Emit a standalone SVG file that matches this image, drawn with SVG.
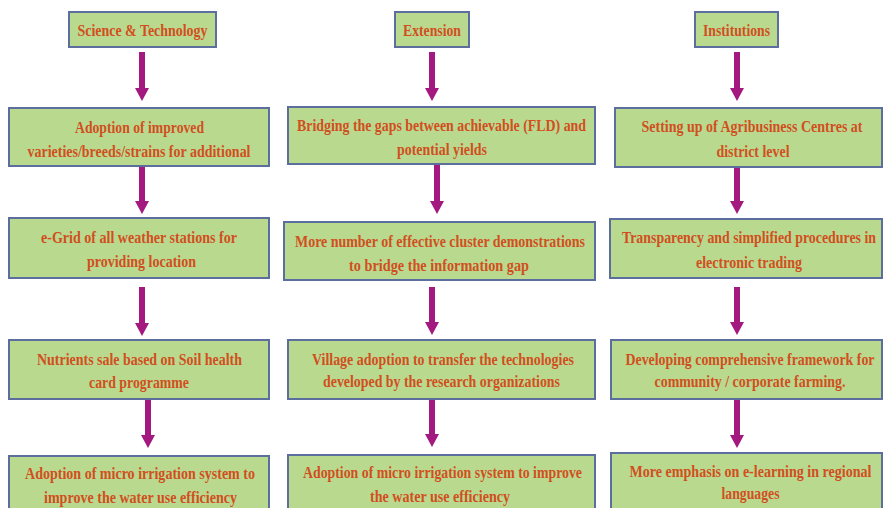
<svg xmlns="http://www.w3.org/2000/svg" width="885" height="508" viewBox="0 0 885 508">
<style>
.box{fill:#b9d98f;stroke:#5b6e9e;stroke-width:2}
.t{font-family:"Liberation Serif","Times New Roman",serif;font-weight:bold;font-size:17px;fill:#d14f1e;text-anchor:middle}
.arr{stroke:#a3197f;stroke-width:6;fill:none;marker-end:url(#ah)}
</style>
<defs>
<marker id="ah" viewBox="0 -7 13 14" markerWidth="13" markerHeight="14" refX="0" refY="0" orient="auto" markerUnits="userSpaceOnUse">
<path d="M0,-7 L13,0 L0,7 z" fill="#a3197f"/>
</marker>
</defs>
<rect width="885" height="508" fill="#ffffff"/>
<g id="connectors">
<line class="arr" x1="142" y1="52" x2="142" y2="88"/>
<line class="arr" x1="142" y1="166" x2="142" y2="201"/>
<line class="arr" x1="142" y1="287" x2="142" y2="323"/>
<line class="arr" x1="148" y1="399" x2="148" y2="435"/>
<line class="arr" x1="432" y1="52" x2="432" y2="88"/>
<line class="arr" x1="437" y1="165" x2="437" y2="201"/>
<line class="arr" x1="432" y1="287" x2="432" y2="322"/>
<line class="arr" x1="432" y1="399" x2="432" y2="434"/>
<line class="arr" x1="737" y1="52" x2="737" y2="88"/>
<line class="arr" x1="737" y1="167" x2="737" y2="201"/>
<line class="arr" x1="737" y1="287" x2="737" y2="322"/>
<line class="arr" x1="737" y1="399" x2="737" y2="435"/>
</g>
<g id="h1"><rect class="box" x="69" y="12" width="147" height="35"/><text class="t" x="142.5" y="36" textLength="130" lengthAdjust="spacingAndGlyphs">Science &amp; Technology</text></g>
<g id="h2"><rect class="box" x="395" y="12" width="74" height="35"/><text class="t" x="432" y="36" textLength="58" lengthAdjust="spacingAndGlyphs">Extension</text></g>
<g id="h3"><rect class="box" x="695" y="12" width="83" height="35"/><text class="t" x="736.5" y="36" textLength="67" lengthAdjust="spacingAndGlyphs">Institutions</text></g>

<g id="n11"><rect class="box" x="9" y="108" width="260" height="58"/>
<text class="t" x="139.5" y="133" textLength="129" lengthAdjust="spacingAndGlyphs">Adoption of improved</text>
<text class="t" x="139" y="157" textLength="223" lengthAdjust="spacingAndGlyphs">varieties/breeds/strains for additional</text></g>
<g id="n12"><rect class="box" x="288" y="107" width="307" height="57"/>
<text class="t" x="441.5" y="131" textLength="289" lengthAdjust="spacingAndGlyphs">Bridging the gaps between achievable (FLD) and</text>
<text class="t" x="442" y="155" textLength="90" lengthAdjust="spacingAndGlyphs">potential yields</text></g>
<g id="n13"><rect class="box" x="615" y="108" width="267" height="59"/>
<text class="t" x="752" y="132" textLength="221" lengthAdjust="spacingAndGlyphs">Setting up of Agribusiness Centres at</text>
<text class="t" x="753" y="157" textLength="73" lengthAdjust="spacingAndGlyphs">district level</text></g>

<g id="n21"><rect class="box" x="9" y="218" width="260" height="60"/>
<text class="t" x="139" y="243" textLength="196" lengthAdjust="spacingAndGlyphs">e-Grid of all weather stations for</text>
<text class="t" x="141.5" y="267" textLength="109" lengthAdjust="spacingAndGlyphs">providing location</text></g>
<g id="n22"><rect class="box" x="284" y="222" width="311" height="58"/>
<text class="t" x="440" y="247" textLength="290" lengthAdjust="spacingAndGlyphs">More number of effective cluster demonstrations</text>
<text class="t" x="439" y="271" textLength="180" lengthAdjust="spacingAndGlyphs">to bridge the  information  gap</text></g>
<g id="n23"><rect class="box" x="610" y="219" width="272" height="59"/>
<text class="t" x="749" y="243" textLength="254" lengthAdjust="spacingAndGlyphs">Transparency and simplified  procedures in</text>
<text class="t" x="749" y="268" textLength="106" lengthAdjust="spacingAndGlyphs">electronic trading</text></g>

<g id="n31"><rect class="box" x="9" y="340" width="260" height="59"/>
<text class="t" x="139.5" y="365" textLength="205" lengthAdjust="spacingAndGlyphs">Nutrients sale based on Soil health</text>
<text class="t" x="139" y="388" textLength="100" lengthAdjust="spacingAndGlyphs">card programme</text></g>
<g id="n32"><rect class="box" x="288" y="340" width="307" height="59"/>
<text class="t" x="443" y="365" textLength="262" lengthAdjust="spacingAndGlyphs">Village adoption to transfer the technologies</text>
<text class="t" x="441.5" y="387" textLength="237" lengthAdjust="spacingAndGlyphs">developed by the research organizations</text></g>
<g id="n33"><rect class="box" x="611" y="340" width="271" height="59"/>
<text class="t" x="750" y="365" textLength="249" lengthAdjust="spacingAndGlyphs">Developing comprehensive framework for</text>
<text class="t" x="750" y="387" textLength="191" lengthAdjust="spacingAndGlyphs">community / corporate farming.</text></g>

<g id="n41"><rect class="box" x="9" y="456" width="260" height="60"/>
<text class="t" x="140" y="479" textLength="230" lengthAdjust="spacingAndGlyphs">Adoption of micro irrigation system to</text>
<text class="t" x="140.5" y="503" textLength="193" lengthAdjust="spacingAndGlyphs">improve the water use efficiency</text></g>
<g id="n42"><rect class="box" x="288" y="455" width="307" height="60"/>
<text class="t" x="442.5" y="478" textLength="279" lengthAdjust="spacingAndGlyphs">Adoption of micro irrigation system to improve</text>
<text class="t" x="440" y="502" textLength="140" lengthAdjust="spacingAndGlyphs">the water use efficiency</text></g>
<g id="n43"><rect class="box" x="611" y="453" width="271" height="60"/>
<text class="t" x="750.5" y="477" textLength="242" lengthAdjust="spacingAndGlyphs">More emphasis on e-learning in regional</text>
<text class="t" x="750.5" y="499" textLength="58" lengthAdjust="spacingAndGlyphs">languages</text></g>
</svg>
